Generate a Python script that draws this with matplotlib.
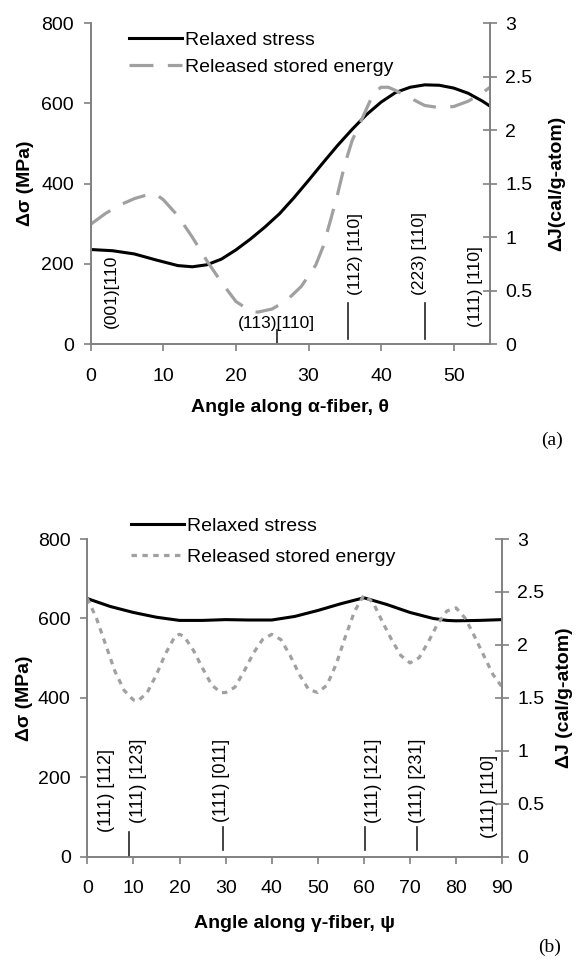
import matplotlib
matplotlib.use("Agg")
import matplotlib.pyplot as plt

plt.rcParams['font.family'] = ['Liberation Sans', 'DejaVu Sans']

# ---------------- Panel (a): alpha-fiber ----------------
a_stress_x = [0, 3, 6, 9, 12, 14, 16, 18, 20, 22, 24, 26, 28, 30, 32, 34, 36, 38,
              40, 42, 44, 46, 48, 50, 52, 54, 55]
a_stress_y = [236, 233, 225, 210, 196, 193, 198, 212, 235, 262, 292, 325, 365, 408,
              452, 495, 535, 572, 603, 627, 640, 646, 645, 638, 625, 605, 593]
a_energy_x = [0, 2, 4, 6, 8, 9, 10, 12, 14, 16, 18, 20, 22, 23, 25, 27, 29, 31, 32,
              33, 34, 35, 36, 37, 38, 39, 40, 41, 42, 44, 46, 48, 50, 52, 54, 55]
a_energy_y = [1.12, 1.22, 1.30, 1.36, 1.40, 1.40, 1.35, 1.20, 1.00, 0.78, 0.58, 0.40,
              0.31, 0.30, 0.33, 0.41, 0.54, 0.74, 0.91, 1.15, 1.40, 1.68, 1.90, 2.05,
              2.20, 2.35, 2.40, 2.40, 2.37, 2.30, 2.23, 2.21, 2.22, 2.27, 2.35, 2.40]
a_xticks = [0, 10, 20, 30, 40, 50]
a_vlabels = ["(001)[110", "(112) [110]", "(223) [110]", "(111) [110]"]
a_vlabel_x = [2.9, 36.5, 45.3, 53.0]
a_vlabel_y = [40, 123, 123, 44]
a_vline_x = [35.5, 46.0]
a_vline_y0 = [12, 12]
a_vline_y1 = [102, 102]
a_hlabel = "(113)[110]"
a_hlabel_x = 25.6
a_hlabel_y = 53
a_hline_x = 25.7
a_hline_y1 = 36

# ---------------- Panel (b): gamma-fiber ----------------
b_stress_x = [0, 5, 10, 15, 20, 25, 30, 35, 40, 45, 50, 55, 60, 65, 70, 75, 78, 80, 85, 90]
b_stress_y = [650, 630, 615, 603, 595, 595, 597, 596, 596, 605, 620, 637, 652, 635,
              615, 600, 595, 594, 595, 597]
b_energy_x = [0, 2, 4, 6, 8, 10, 11, 13, 15, 17, 19, 20, 21, 23, 25, 27, 29, 30, 32, 34,
              36, 38, 40, 42, 44, 46, 48, 50, 52, 54, 56, 58, 60, 62, 64, 66, 68, 70,
              72, 74, 76, 78, 80, 82, 84, 86, 88, 90]
b_energy_y = [2.44, 2.25, 2.00, 1.75, 1.57, 1.48, 1.47, 1.55, 1.72, 1.92, 2.08, 2.10,
              2.08, 1.95, 1.78, 1.62, 1.55, 1.55, 1.60, 1.75, 1.92, 2.05, 2.10, 2.05,
              1.90, 1.72, 1.58, 1.55, 1.62, 1.82, 2.08, 2.32, 2.47, 2.40, 2.22, 2.05,
              1.90, 1.83, 1.88, 2.03, 2.20, 2.32, 2.35, 2.25, 2.08, 1.90, 1.72, 1.60]
b_xticks = [0, 10, 20, 30, 40, 50, 60, 70, 80, 90]
b_vlabels = ["(111) [112]", "(111) [123]", "(111) [011]", "(111) [121]", "(111) [231]", "(111) [110]"]
b_vlabel_x = [4.2, 11.1, 29.2, 62.1, 71.6, 87.2]
b_vlabel_y = [63, 84, 88, 84, 84, 47]
b_vline_x = [9.1, 29.4, 60.3, 71.5]
b_vline_y0 = [0, 17, 17, 17]
b_vline_y1 = [63, 75, 75, 75]

left_ticks = [0, 200, 400, 600, 800]
right_ticks = [0, 0.5, 1, 1.5, 2, 2.5, 3]
right_ticklabels = ["0", "0.5", "1", "1.5", "2", "2.5", "3"]
legend_labels = ["Relaxed stress", "Released stored energy"]

W, H = 578, 960
fig = plt.figure(figsize=(W / 100, H / 100), dpi=100)

SPINE = '#808080'
GRAY = '#a0a0a0'
TICKFS = 14
LEGFS = 14


def px_axes(l, r, t, b):
    return fig.add_axes([l / W, 1 - b / H, (r - l) / W, (b - t) / H])


def style(ax, ax2, xmax, xticks):
    ax.set_xlim(0, xmax)
    ax.set_ylim(0, 800)
    ax2.set_ylim(0, 3)
    ax.set_xticks(xticks)
    ax.set_yticks(left_ticks)
    ax2.set_yticks(right_ticks)
    ax2.set_yticklabels(right_ticklabels)
    for a in (ax, ax2):
        for s in a.spines.values():
            s.set_color(SPINE)
            s.set_linewidth(1.2)
        a.spines['top'].set_visible(False)
    ax.tick_params(axis='x', direction='out', length=5, width=1.2, color=SPINE,
                   labelsize=TICKFS, pad=12)
    ax.tick_params(axis='y', direction='out', length=5, width=1.2, color=SPINE,
                   labelsize=TICKFS, pad=7)
    ax2.tick_params(axis='y', direction='inout', length=10, width=1.2, color=SPINE,
                    labelsize=TICKFS, pad=6)


def draw_annotations(ax, labels, lx, ly, vx, vy0, vy1, fs):
    for t, x, y in zip(labels, lx, ly):
        ax.text(x, y, t, rotation=90, ha='center', va='bottom', fontsize=fs,
                color='black', zorder=5)
    for x, y0, y1 in zip(vx, vy0, vy1):
        ax.plot([x, x], [y0, y1], color='#222222', lw=1.2, zorder=5)


# ---- Panel (a)
ax = px_axes(90.7, 490, 23, 344.3)
ax2 = ax.twinx()
style(ax, ax2, 55, a_xticks)
l1, = ax.plot(a_stress_x, a_stress_y, color='black', lw=2.2)
l2, = ax2.plot(a_energy_x, a_energy_y, color=GRAY, lw=2.3, dashes=(7.5, 4.5))
draw_annotations(ax, a_vlabels, a_vlabel_x, a_vlabel_y, a_vline_x, a_vline_y0,
                 a_vline_y1, 12.5)
ax.text(a_hlabel_x, a_hlabel_y, a_hlabel, ha='center', va='center', fontsize=12.5)
ax.plot([a_hline_x, a_hline_x], [0, a_hline_y1], color='#222222', lw=1.2)
ax.set_xlabel("Angle along α-fiber, θ", fontsize=14, fontweight='bold')
ax.xaxis.set_label_coords(0.5, -0.198)
ax.xaxis.label.set_verticalalignment('center')
ax.set_ylabel("Δσ (MPa)", fontsize=14, fontweight='bold')
ax.yaxis.label.set_verticalalignment('center')
ax.yaxis.set_label_coords((25 - 90.7) / 399.3, 0.5)
ax2.set_ylabel("ΔJ(cal/g-atom)", fontsize=14, fontweight='bold')
ax2.yaxis.label.set_verticalalignment('center')
ax2.yaxis.set_label_coords((557 - 90.7) / 399.3, 0.5)
fig.legend([l1, l2], legend_labels, loc='upper left',
           bbox_to_anchor=(129 / W, 1 - 31 / H), frameon=False, fontsize=LEGFS,
           handlelength=2.75, handletextpad=0.15, labelspacing=0.5, borderpad=0,
           borderaxespad=0)
fig.text(552 / W, 1 - 440 / H, "(a)", ha='center', va='center', fontsize=14,
         family=['Liberation Serif', 'DejaVu Serif'])

# ---- Panel (b)
bx = px_axes(87.3, 502.2, 539, 856.7)
bx2 = bx.twinx()
style(bx, bx2, 90, b_xticks)
m1, = bx.plot(b_stress_x, b_stress_y, color='black', lw=2.2)
m2, = bx2.plot(b_energy_x, b_energy_y, color=GRAY, lw=2.3, dashes=(1.7, 1.7))
draw_annotations(bx, b_vlabels, b_vlabel_x, b_vlabel_y, b_vline_x, b_vline_y0,
                 b_vline_y1, 13)
bx.set_xlabel("Angle along γ-fiber, ψ", fontsize=14, fontweight='bold')
bx.xaxis.set_label_coords(0.5, -0.2087)
bx.xaxis.label.set_verticalalignment('center')
bx.set_ylabel("Δσ (MPa)", fontsize=14, fontweight='bold')
bx.yaxis.label.set_verticalalignment('center')
bx.yaxis.set_label_coords((25 - 87.3) / 414.9, 0.5)
bx2.set_ylabel("ΔJ (cal/g-atom)", fontsize=14, fontweight='bold')
bx2.yaxis.label.set_verticalalignment('center')
bx2.yaxis.set_label_coords((565 - 87.3) / 414.9, 0.5)
fig.legend([m1, m2], legend_labels, loc='upper left',
           bbox_to_anchor=(131 / W, 1 - 517 / H), frameon=False, fontsize=LEGFS,
           handlelength=2.75, handletextpad=0.15, labelspacing=0.72, borderpad=0,
           borderaxespad=0)
fig.text(550 / W, 1 - 947 / H, "(b)", ha='center', va='center', fontsize=14,
         family=['Liberation Serif', 'DejaVu Serif'])

fig.savefig("out.png", dpi=100)
